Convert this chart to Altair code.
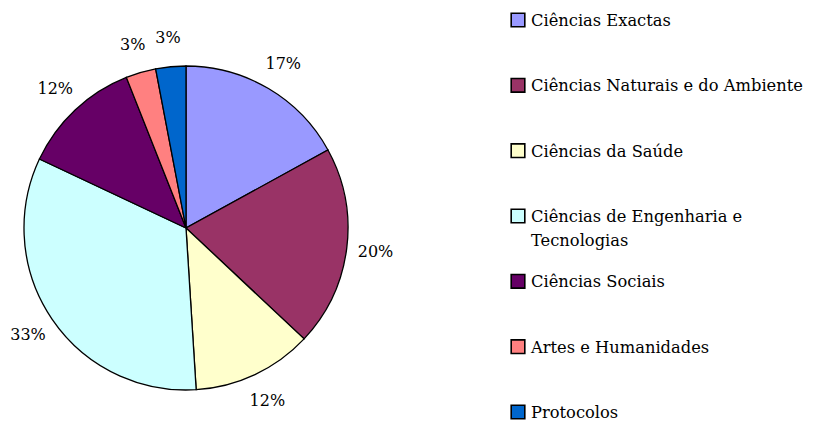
import altair as alt
import pandas as pd

categories = [
    "Ciências Exactas",
    "Ciências Naturais e do Ambiente",
    "Ciências da Saúde",
    "Ciências de Engenharia e\nTecnologias",
    "Ciências Sociais",
    "Artes e Humanidades",
    "Protocolos",
]
values = [17, 20, 12, 33, 12, 3, 3]
colors = ["#9999FF", "#993366", "#FFFFCC", "#CCFFFF", "#660066", "#FF8080", "#0066CC"]

df = pd.DataFrame({
    "cat": categories,
    "val": values,
    "idx": list(range(len(categories))),
    "label": [f"{v}%" for v in values],
})

FONT = "DejaVu Serif"
CX, CY, R = 178, 220, 162

color = alt.Color("cat:N", scale=alt.Scale(domain=categories, range=colors), legend=None)
base = alt.Chart(df)

pie = base.mark_arc(stroke="black", strokeWidth=1.3).encode(
    theta=alt.Theta("val:Q", stack=True),
    order=alt.Order("idx:Q"),
    color=color,
    x=alt.value(CX), y=alt.value(CY),
    radius=alt.value(R),
)

labels = base.mark_text(font=FONT, fontSize=16, color="black", baseline="middle", align="center").encode(
    theta=alt.Theta("val:Q", stack=True),
    order=alt.Order("idx:Q"),
    text="label:N",
    x=alt.value(CX), y=alt.value(CY),
    radius=alt.value(191),
)

ypos = alt.Y("idx:O", scale=alt.Scale(range=[12, 404], padding=0), axis=None)

squares = base.mark_square(size=185, stroke="black", strokeWidth=1.6, opacity=1).encode(
    x=alt.value(510), y=ypos,
    fill=alt.Fill("cat:N", scale=alt.Scale(domain=categories, range=colors), legend=None),
)

legtext = base.mark_text(font=FONT, fontSize=16.3, color="black", align="left", baseline="alphabetic",
                         dy=6, lineBreak="\n", lineHeight=24).encode(
    x=alt.value(523), y=ypos, text="cat:N",
)

chart = alt.layer(pie, labels, squares, legtext).properties(
    width=808, height=414, padding=0, autosize=alt.AutoSizeParams(type="none"),
).configure_view(stroke=None)

chart.save("out.html", embed_options={"renderer": "svg", "actions": False})
